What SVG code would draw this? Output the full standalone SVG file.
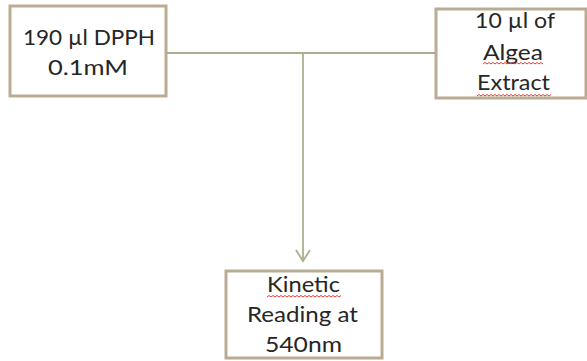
<svg xmlns="http://www.w3.org/2000/svg" width="587" height="361" viewBox="0 0 587 361">
<style>
.box{fill:#fff;stroke:#baab93;stroke-width:3}
.t{font-family:Lato,"Open Sans","Liberation Sans",sans-serif;font-size:22px;fill:#262626;text-anchor:middle}
.conn{fill:none;stroke:#adad8f;stroke-width:1.8}
.sq{fill:none;stroke:#e23b3b;stroke-width:1}
</style>
<rect width="587" height="361" fill="#fff"/>
<g id="connectors">
<path class="conn" d="M167 53 H436"/>
<path class="conn" d="M303 53 V261"/>
<path class="conn" d="M296 250 L303 261 L310 250"/>
</g>
<g id="dpph">
<rect class="box" x="10" y="6" width="156" height="90"/>
<text class="t" x="89" y="45" textLength="132" lengthAdjust="spacingAndGlyphs">190 µl DPPH</text>
<text class="t" x="88" y="75" textLength="80" lengthAdjust="spacingAndGlyphs">0.1mM</text>
</g>
<g id="extract">
<rect class="box" x="436" y="9" width="150" height="89"/>
<text class="t" x="515" y="28" textLength="80" lengthAdjust="spacingAndGlyphs">10 µl of</text>
<text class="t" x="513" y="60" textLength="60" lengthAdjust="spacingAndGlyphs">Algea</text>
<text class="t" x="513.5" y="90" textLength="73" lengthAdjust="spacingAndGlyphs">Extract</text>
<path class="sq" d="M483 64 l2 -1.5 l2 1.5 l2 -1.5 l2 1.5 l2 -1.5 l2 1.5 l2 -1.5 l2 1.5 l2 -1.5 l2 1.5 l2 -1.5 l2 1.5 l2 -1.5 l2 1.5 l2 -1.5 l2 1.5 l2 -1.5 l2 1.5 l2 -1.5 l2 1.5 l2 -1.5 l2 1.5 l2 -1.5 l2 1.5 l2 -1.5 l2 1.5 l2 -1.5 l2 1.5 l2 -1.5 l2 1.5"/>
<path class="sq" d="M477 96 l2 -1.5 l2 1.5 l2 -1.5 l2 1.5 l2 -1.5 l2 1.5 l2 -1.5 l2 1.5 l2 -1.5 l2 1.5 l2 -1.5 l2 1.5 l2 -1.5 l2 1.5 l2 -1.5 l2 1.5 l2 -1.5 l2 1.5 l2 -1.5 l2 1.5 l2 -1.5 l2 1.5 l2 -1.5 l2 1.5 l2 -1.5 l2 1.5 l2 -1.5 l2 1.5 l2 -1.5 l2 1.5 l2 -1.5 l2 1.5 l2 -1.5 l2 1.5 l2 -1.5 l2 1.5 l2 -1.5"/>
</g>
<g id="kinetic">
<rect class="box" x="226" y="271" width="156" height="87"/>
<text class="t" x="303.5" y="292" textLength="73" lengthAdjust="spacingAndGlyphs">Kinetic</text>
<text class="t" x="302.5" y="322" textLength="111" lengthAdjust="spacingAndGlyphs">Reading at</text>
<text class="t" x="303.5" y="352" textLength="77" lengthAdjust="spacingAndGlyphs">540nm</text>
<path class="sq" d="M267 297 l2 -1.5 l2 1.5 l2 -1.5 l2 1.5 l2 -1.5 l2 1.5 l2 -1.5 l2 1.5 l2 -1.5 l2 1.5 l2 -1.5 l2 1.5 l2 -1.5 l2 1.5 l2 -1.5 l2 1.5 l2 -1.5 l2 1.5 l2 -1.5 l2 1.5 l2 -1.5 l2 1.5 l2 -1.5 l2 1.5 l2 -1.5 l2 1.5 l2 -1.5 l2 1.5 l2 -1.5 l2 1.5 l2 -1.5 l2 1.5 l2 -1.5 l2 1.5 l2 -1.5 l2 1.5 l2 -1.5"/>
</g>
</svg>
